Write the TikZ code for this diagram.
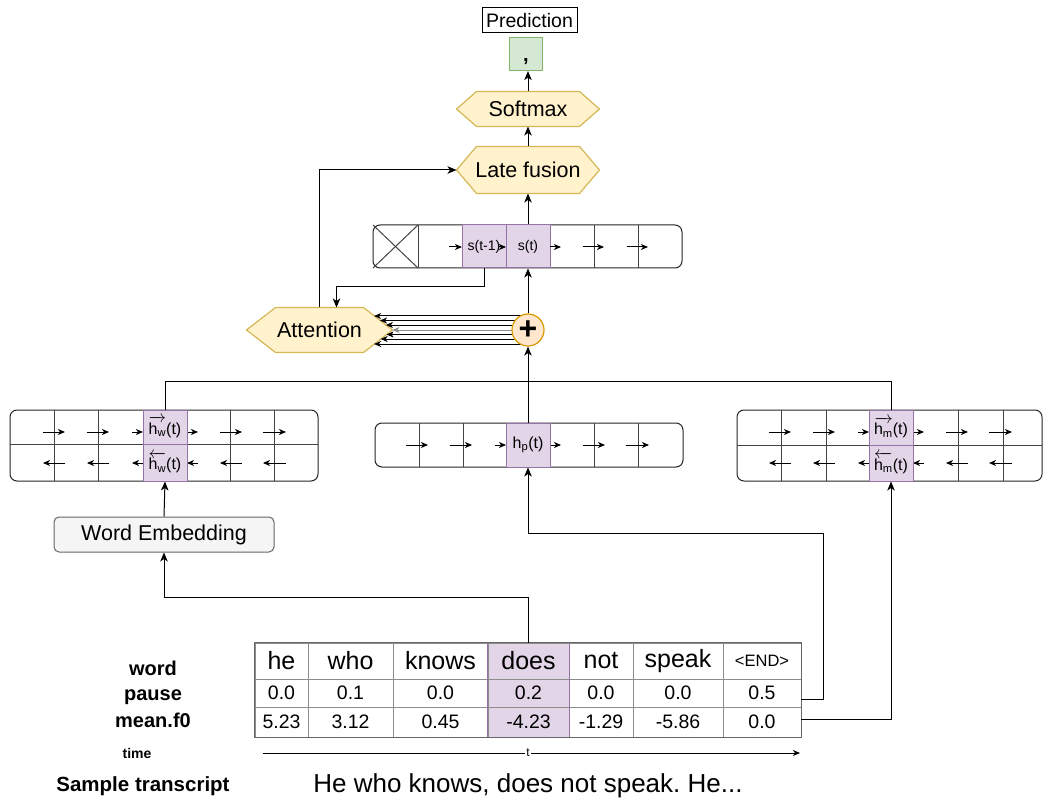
\documentclass[tikz,border=0pt]{standalone}
\usepackage{fontspec}
\setmainfont{Liberation Sans}
\usepackage{amsmath}
\usetikzlibrary{arrows.meta,calc,backgrounds}

\definecolor{hexfill}{HTML}{FFF2CC}
\definecolor{hexline}{HTML}{D6B656}
\definecolor{grnfill}{HTML}{D5E8D4}
\definecolor{grnline}{HTML}{82B366}
\definecolor{purfill}{HTML}{E1D5E7}
\definecolor{purline}{HTML}{9673A6}
\definecolor{orgfill}{HTML}{FFE6CC}
\definecolor{orgline}{HTML}{D79B00}
\definecolor{embfill}{HTML}{F5F5F5}
\definecolor{embline}{HTML}{666666}
\definecolor{gridline}{HTML}{8C8C8C}
\definecolor{divline}{HTML}{444444}

\frenchspacing
\newcommand\setfs[1]{\fontsize{#1}{#1}\selectfont}
% hexagon drawn around a rectangular node; #2 is the depth of the side points
\newcommand\hexoutline[2]{%
  \filldraw[hexshape] (#1.west) -- ($(#1.north west)+(#2,0)$) -- ($(#1.north east)+(-#2,0)$)
    -- (#1.east) -- ($(#1.south east)+(-#2,0)$) -- ($(#1.south west)+(#2,0)$) -- cycle;}
\newcommand\hfwd[1]{\(\overrightarrow{\text{h}_{\text{#1}}}\)(t)}
\newcommand\hbwd[1]{\(\overleftarrow{\text{h}_{\text{#1}}}\)(t)}
% forward / backward arrows of one recurrent row; #1 = left edge of the highlighted cell, #2 = y
\newcommand\fwdarrows[2]{%
  \foreach \a/\b in {-100/-78,-56/-34,-11/0,44/55,77/99,120/143}
    \draw[tiny] ({#1+\a},#2) -- ({#1+\b},#2);}
\newcommand\bwdarrows[2]{%
  \foreach \a/\b in {-100/-78,-56/-34,-11/0,44/55,77/99,120/143}
    \draw[tiny] ({#1+\b},#2) -- ({#1+\a},#2);}
% one column of the feature table
\newcommand\tcol[6]{%
  \node[cell, minimum width={#3-#2}, minimum height=36, font=\setfs{25}] (#1w) at ({(#2+#3)/2},661) {#4};
  \node[cell, minimum width={#3-#2}, minimum height=28, font=\setfs{19.5}] (#1p) at ({(#2+#3)/2},693) {#5};
  \node[cell, minimum width={#3-#2}, minimum height=30, font=\setfs{19.5}] (#1f) at ({(#2+#3)/2},722) {#6};}

\begin{document}
\begin{tikzpicture}[x=1pt,y=-1pt,line width=1pt,
  arr/.style={-{Stealth[length=9pt,width=7.5pt,inset=2.5pt]}},
  tiny/.style={-{Stealth[length=7pt,width=6pt,inset=2pt]}},
  hexnode/.style={rectangle,inner sep=0,font=\setfs{21.5}},
  hexshape/.style={fill=hexfill,draw=hexline,line width=1.2pt},
  frame/.style={draw=black!85,fill=white,rounded corners=7pt,inner sep=0},
  divider/.style={draw=divline},
  pcell/.style={draw=purline,fill=purfill,inner sep=0,minimum width=44},
  cell/.style={draw=gridline,inner sep=0},
  rowlabel/.style={font=\bfseries\setfs{20},anchor=base},
]
\useasboundingbox (0,0) rectangle (1044,802);

% ---------- output stack ----------
\node[draw,inner sep=0,minimum width=95,minimum height=25,font=\setfs{19.5}] (pred) at (529.5,20.5) {Prediction};
\node[draw=grnline,fill=grnfill,line width=1.2pt,minimum size=33,inner sep=0] (out) at (526,54) {};
\node[font=\bfseries\setfs{20}] (comma) at ($(out.south)+(0,-10)$) {,};
\node[hexnode,minimum width=142,minimum height=34] (soft) at (528,109) {Softmax};
\node[hexnode,minimum width=142,minimum height=46] (fus) at (528,170) {Late fusion};
\node[hexnode,minimum width=145,minimum height=44] (att) at (319.5,330) {Attention};
\begin{scope}[on background layer]
  \hexoutline{soft}{20}
  \hexoutline{fus}{20}
  \hexoutline{att}{29}
\end{scope}

% ---------- decoder row s ----------
\node[frame,minimum width=309,minimum height=43] (sbar) at (527.5,246.5) {};
\draw[divider] (373,225) -- (418,268) (373,268) -- (418,225);
\foreach \x in {418,594,638} \draw[divider] (\x,225) -- (\x,268);
\node[pcell,minimum height=43,font=\setfs{14}] (sprev) at (484,246.5) {s(t-1)};
\node[pcell,minimum height=43,font=\setfs{14}] (scur) at (528,246.5) {s(t)};
\draw[tiny] (449,247) -- (462,247);
\draw[tiny] (499,247) -- (506,247);
\draw[tiny] (550,247) -- (561,247);
\draw[tiny] (583,247) -- (604,247);
\draw[tiny] (627,247) -- (648,247);

% ---------- sum node and attention ----------
\coordinate (plusc) at (528,330);
\foreach \dy in {-14,-9.5,-5,4.5,9,14}
  \draw[tiny] ($(plusc)+(0,\dy)$) -- ($(att.east)+({-29*abs(\dy)/22},\dy)$);
\draw[tiny,draw=black!45] (plusc) -- (att.east);
\node[circle,draw=orgline,fill=orgfill,line width=1.2pt,minimum size=32,inner sep=0,font=\bfseries\setfs{32}] (plus) at (plusc) {+};

% ---------- word BiRNN ----------
\node[frame,minimum width=308,minimum height=71] (wbox) at (164,445.5) {};
\draw[divider] (10,444) -- (318,444);
\foreach \x in {54,98,230,274} \draw[divider] (\x,410) -- (\x,481);
\fwdarrows{143}{432}
\bwdarrows{143}{463}
\node[pcell,minimum height=34,font=\setfs{16}] (wf) at (165,427) {\hfwd{w}};
\node[pcell,minimum height=37,font=\setfs{16}] (wb) at (165,462.5) {\hbwd{w}};

% ---------- pause RNN ----------
\node[frame,minimum width=308,minimum height=44] (pbox) at (529,445) {};
\foreach \x in {419,463,550,594,638} \draw[divider] (\x,423) -- (\x,467);
\fwdarrows{506}{445}
\node[pcell,minimum height=44,font=\setfs{16}] (pc) at (528,445) {h\textsubscript{p}(t)};

% ---------- f0 BiRNN ----------
\node[frame,minimum width=305,minimum height=71] (mbox) at (889.5,445.5) {};
\draw[divider] (737,445) -- (1042,445);
\foreach \x in {781,826,958,1003} \draw[divider] (\x,410) -- (\x,481);
\fwdarrows{869}{432}
\bwdarrows{869}{463}
\node[pcell,minimum height=35,font=\setfs{16}] (mf) at (891,427.5) {\hfwd{m}};
\node[pcell,minimum height=36,font=\setfs{16}] (mb) at (891,463) {\hbwd{m}};

% ---------- embedding ----------
\node[draw=embline,fill=embfill,rounded corners=5pt,minimum width=220,minimum height=35,inner sep=0,font=\setfs{21.5}] (emb) at (164,534.5) {Word Embedding};

% ---------- feature table ----------
\tcol{c1}{255}{308}{he}{0.0}{5.23}
\tcol{c2}{308}{393}{who}{0.1}{3.12}
\tcol{c3}{393}{488}{knows}{0.0}{0.45}
\begin{scope}[cell/.append style={fill=purfill}]
\tcol{c4}{488}{569}{does}{0.2}{-4.23}
\end{scope}
\tcol{c5}{569}{633}{not}{0.0}{-1.29}
\tcol{c6}{633}{723}{speak}{0.0}{-5.86}
\node[cell,minimum width=78,minimum height=36,font=\setfs{16.5}] (c7w) at (762,661) {<END>};
\node[cell,minimum width=78,minimum height=28,font=\setfs{19.5}] (c7p) at (762,693) {0.5};
\node[cell,minimum width=78,minimum height=30,font=\setfs{19.5}] (c7f) at (762,722) {0.0};
\draw[purline] (c4w.north west) rectangle (c4f.south east);
\draw[black!60] (c1w.north west) rectangle (c7f.south east);

\node[rowlabel] (lw) at (153,675) {word};
\node[rowlabel] (lp) at (153,700) {pause};
\node[rowlabel] (lf) at (153,727) {mean.f0};
\node[font=\bfseries\setfs{14}] (ltime) at (137,753) {time};
\coordinate (tstart) at (263,753);
\coordinate (tend) at (800,753);
\draw[-{Stealth[length=7pt,width=6pt,inset=2pt]}] (tstart) -- (tend);
\node[fill=white,inner sep=1.5pt,font=\setfs{12}] (tlabel) at (528,753) {t};
\node[font=\bfseries\setfs{20.5}] (lsample) at (143,786) {Sample transcript};
\node[font=\setfs{26}] (transcript) at (528,786) {He who knows, does not speak. He...};

% ---------- connectors ----------
\draw[arr] (soft.north) -- (soft.north |- out.south);
\draw[arr] (fus.north) -- (soft.south);
\draw[arr] (scur.north) -- (fus.south);
\draw[arr] (plus.north) -- (scur.south);
\draw[arr] (sprev.south) -- ++(0,18) -| ($(att.north)+(17,0)$);
\draw[arr] (att.north) |- (fus.west);
\coordinate (join) at (528,381);
\draw (wf.north) |- (join);
\draw (mf.north) |- (join);
\draw[arr] (pc.north) -- (plus.south);
\draw[arr] (emb.north) -- (wb.south);
\draw[arr] (c4w.north) -- ++(0,-45) -| (emb.south);
\coordinate (pauseout) at (801,699);
\coordinate (f0out) at (801,719);
\draw[arr] (pauseout) -- ++(22,0) -- ++(0,-166) -| (pc.south);
\draw[arr] (f0out) -| (mb.south);
\end{tikzpicture}
\end{document}
